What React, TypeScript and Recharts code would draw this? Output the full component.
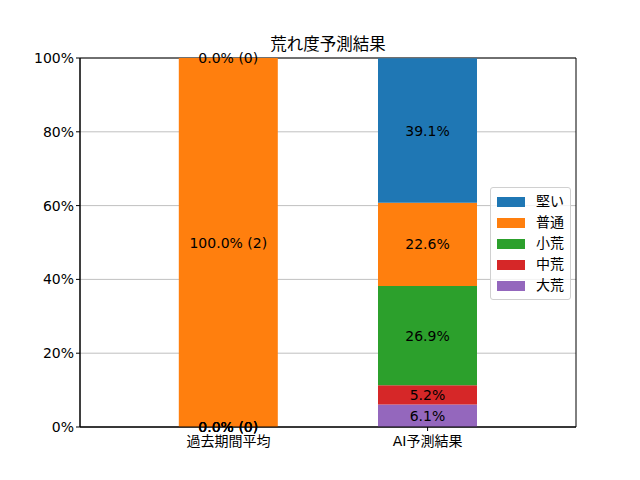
import React from "react";
import {
  BarChart, Bar, XAxis, YAxis, CartesianGrid, LabelList, ReferenceArea,
} from "recharts";

const categories = ["過去期間平均", "AI予測結果"];
const seriesNames = ["大荒", "中荒", "小荒", "普通", "堅い"];
const colors = ["#9467bd", "#d62728", "#2ca02c", "#ff7f0e", "#1f77b4"];
const pastValues = [0, 0, 0, 100, 0];
const pastCounts = [0, 0, 0, 2, 0];
const aiValues = [6.1, 5.2, 26.9, 22.6, 39.1];
const yTicks = [0, 20, 40, 60, 80, 100];

const font = "'DejaVu Sans', 'Noto Sans CJK JP', sans-serif";
const X_MIN = -0.745, X_MAX = 1.745;

const data = categories.map((c, ci) => {
  const row: Record<string, string | number> = { name: c, x: ci };
  seriesNames.forEach((s, si) => {
    row[s] = ci === 0 ? pastValues[si] : aiValues[si];
    row[`${s}_label`] = ci === 0
      ? `${pastValues[si].toFixed(1)}% (${pastCounts[si]})`
      : `${aiValues[si].toFixed(1)}%`;
  });
  return row;
});

// segment label, centred in the segment
const SegLabel = (props: any) => {
  const { x, y, width, height, value } = props;
  const h = Math.abs(height) < 0.5 ? 0 : height;
  return (
    <text
      x={x + width / 2} y={y + h / 2}
      textAnchor="middle" dominantBaseline="central"
      fontSize={14} fill="#000" fontFamily={font}
    >
      {value}
    </text>
  );
};

const LegendBox = () => (
  <div style={{
    position: "absolute", left: 490, top: 187,
    border: "1px solid #d0d0d0", borderRadius: 3, background: "rgba(255,255,255,0.8)",
    padding: "3px 6px 3px 6px", fontFamily: font, fontSize: 14, lineHeight: "21px",
  }}>
    {[...seriesNames].reverse().map((s, i) => {
      const c = colors[seriesNames.length - 1 - i];
      return (
        <div key={s} style={{ display: "flex", alignItems: "center", height: 21 }}>
          <span style={{ width: 28, height: 10, background: c, display: "inline-block", marginRight: 11 }} />
          <span>{s}</span>
        </div>
      );
    })}
  </div>
);

export default function App() {
  return (
    <div style={{ position: "absolute", left: 0, top: 0, width: 640, height: 480, background: "#fff" }}>
      <div style={{
        position: "absolute", left: 80, width: 496, top: 31, textAlign: "center",
        fontFamily: font, fontSize: 16.5, color: "#000",
      }}>
        荒れ度予測結果
      </div>
      <BarChart
        width={640} height={480} data={data}
        margin={{ top: 58, right: 64, bottom: 23, left: 0 }}
      >
        <CartesianGrid vertical={false} stroke="#b0b0b0" strokeWidth={0.8} />
        <XAxis
          dataKey="x" type="number" domain={[X_MIN, X_MAX]} ticks={[0, 1]}
          allowDataOverflow height={30} tickMargin={5}
          tickFormatter={v => categories[v]}
          tick={{ fontSize: 14, fill: "#000", fontFamily: font }}
          axisLine={{ stroke: "#000" }} tickLine={{ stroke: "#000" }} tickSize={4}
        />
        <YAxis
          width={80} domain={[0, 100]} ticks={yTicks} allowDataOverflow
          tickFormatter={v => `${v}%`}
          tick={{ fontSize: 14, fill: "#000", fontFamily: font }}
          axisLine={{ stroke: "#000" }} tickLine={{ stroke: "#000" }} tickSize={4}
        />
        {seriesNames.map((s, si) => (
          <Bar
            key={s} dataKey={s} stackId="a" fill={colors[si]}
            barSize={99} minPointSize={0.01} isAnimationActive={false}
          >
            <LabelList dataKey={`${s}_label`} content={SegLabel} />
          </Bar>
        ))}
        <ReferenceArea
          x1={X_MIN} x2={X_MAX} y1={0} y2={100}
          fill="none" fillOpacity={0} stroke="#000" strokeWidth={1} ifOverflow="visible"
        />
      </BarChart>
      <LegendBox />
    </div>
  );
}
